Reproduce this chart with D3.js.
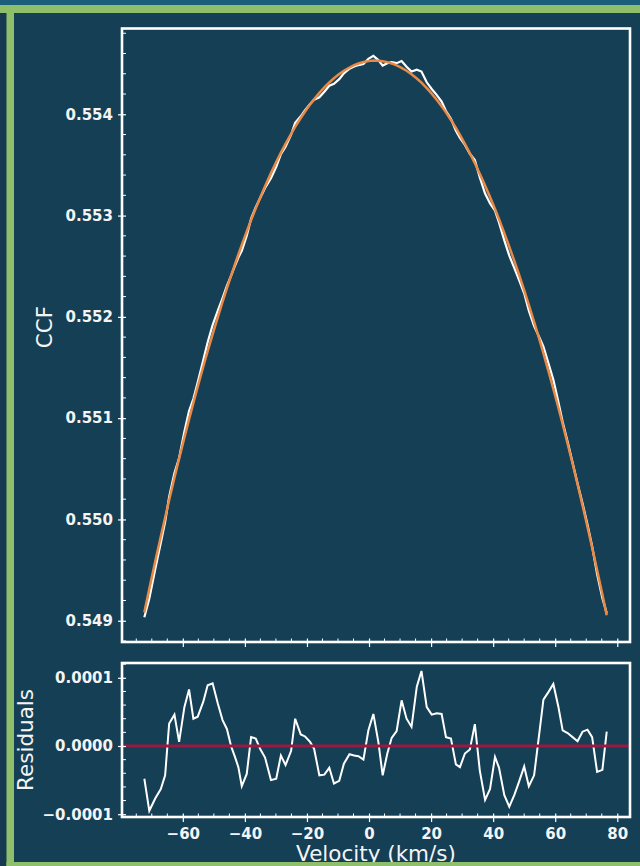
<!DOCTYPE html>
<html>
<head>
<meta charset="utf-8">
<script src="https://cdn.jsdelivr.net/npm/d3@7"></script>
<style>
  body { margin: 0; background: #143f55; }
  svg { display: block; }
</style>
</head>
<body>
<svg width="640" height="866"></svg>
<script>
// velocity grid (km/s)
const velocity = [
  -72.4, -70.8, -68.9, -67.1, -65.7, -64.4, -62.7, -61.2, -59.5, -58.0,
  -56.6, -55.2, -53.4, -52.0, -50.4, -48.7, -47.2, -45.8, -44.4, -43.2,
  -42.1, -41.0, -39.4, -38.0, -36.5, -35.1, -33.5, -31.6, -29.9, -28.4,
  -26.9, -25.1, -23.8, -22.0, -20.6, -19.0, -17.7, -16.0, -14.4, -12.8,
  -11.3, -9.6, -8.1, -6.3, -4.8, -3.4, -1.8, -0.2, 1.4, 3.0,
  4.4, 5.9, 7.3, 8.9, 10.5, 12.1, 13.7, 15.4, 16.9, 18.6,
  20.2, 21.8, 23.4, 24.8, 26.4, 28.0, 29.3, 30.9, 32.5, 34.1,
  35.7, 37.4, 39.0, 40.6, 41.9, 43.6, 45.2, 46.8, 48.3, 50.0,
  51.5, 53.2, 54.8, 56.2, 57.8, 59.4, 61.0, 62.4, 64.0, 65.6,
  67.2, 68.8, 70.4, 71.9, 73.5, 75.2, 76.6
];

// measured CCF (white line)
const ccf = [
  0.549035, 0.549220, 0.549507, 0.549769, 0.549977, 0.550225, 0.550457, 0.550606, 0.550865, 0.551071,
  0.551191, 0.551354, 0.551575, 0.551750, 0.551920, 0.552063, 0.552186, 0.552307, 0.552410, 0.552504,
  0.552585, 0.552652, 0.552802, 0.552969, 0.553082, 0.553172, 0.553273, 0.553369, 0.553481, 0.553607,
  0.553680, 0.553800, 0.553915, 0.553980, 0.554041, 0.554102, 0.554144, 0.554168, 0.554223, 0.554282,
  0.554301, 0.554347, 0.554404, 0.554450, 0.554471, 0.554486, 0.554496, 0.554548, 0.554577, 0.554535,
  0.554481, 0.554504, 0.554514, 0.554505, 0.554526, 0.554470, 0.554423, 0.554440, 0.554422, 0.554316,
  0.554250, 0.554192, 0.554126, 0.554032, 0.553955, 0.553838, 0.553766, 0.553697, 0.553610, 0.553548,
  0.553376, 0.553218, 0.553120, 0.553048, 0.552931, 0.552755, 0.552605, 0.552483, 0.552368, 0.552233,
  0.552060, 0.551908, 0.551803, 0.551707, 0.551545, 0.551379, 0.551163, 0.550963, 0.550766, 0.550563,
  0.550354, 0.550160, 0.549950, 0.549735, 0.549462, 0.549223, 0.549075
];

// model fit (orange line)
const fit = [
  0.549083, 0.549315, 0.549584, 0.549832, 0.550020, 0.550192, 0.550411, 0.550600, 0.550808, 0.550988,
  0.551151, 0.551311, 0.551510, 0.551661, 0.551828, 0.552001, 0.552148, 0.552282, 0.552411, 0.552520,
  0.552616, 0.552711, 0.552843, 0.552956, 0.553071, 0.553176, 0.553290, 0.553419, 0.553529, 0.553621,
  0.553708, 0.553807, 0.553875, 0.553963, 0.554027, 0.554096, 0.554148, 0.554211, 0.554265, 0.554314,
  0.554356, 0.554398, 0.554430, 0.554462, 0.554485, 0.554501, 0.554516, 0.554525, 0.554530, 0.554529,
  0.554524, 0.554515, 0.554502, 0.554483, 0.554459, 0.554430, 0.554395, 0.554353, 0.554312, 0.554259,
  0.554204, 0.554144, 0.554079, 0.554019, 0.553944, 0.553865, 0.553797, 0.553708, 0.553615, 0.553516,
  0.553412, 0.553297, 0.553183, 0.553064, 0.552963, 0.552827, 0.552694, 0.552555, 0.552421, 0.552263,
  0.552119, 0.551951, 0.551787, 0.551639, 0.551466, 0.551288, 0.551105, 0.550940, 0.550747, 0.550550,
  0.550347, 0.550139, 0.549926, 0.549722, 0.549500, 0.549258, 0.549054
];

// residuals (data - fit)
const residuals = [
  -4.8e-5, -9.5e-5, -7.7e-5, -6.3e-5, -4.3e-5, 3.3e-5, 4.6e-5, 0.6e-5, 5.7e-5, 8.3e-5,
  4.0e-5, 4.3e-5, 6.5e-5, 8.9e-5, 9.2e-5, 6.2e-5, 3.8e-5, 2.5e-5, -0.1e-5, -1.6e-5,
  -3.1e-5, -5.9e-5, -4.1e-5, 1.3e-5, 1.1e-5, -0.4e-5, -1.7e-5, -5.0e-5, -4.8e-5, -1.4e-5,
  -2.8e-5, -0.7e-5, 4.0e-5, 1.7e-5, 1.4e-5, 0.6e-5, -0.4e-5, -4.3e-5, -4.2e-5, -3.2e-5,
  -5.5e-5, -5.1e-5, -2.6e-5, -1.2e-5, -1.4e-5, -1.5e-5, -2.0e-5, 2.3e-5, 4.7e-5, 0.6e-5,
  -4.3e-5, -1.1e-5, 1.2e-5, 2.2e-5, 6.7e-5, 4.0e-5, 2.8e-5, 8.7e-5, 11.0e-5, 5.7e-5,
  4.6e-5, 4.8e-5, 4.7e-5, 1.3e-5, 1.1e-5, -2.7e-5, -3.1e-5, -1.1e-5, -0.5e-5, 3.2e-5,
  -3.6e-5, -7.9e-5, -6.3e-5, -1.6e-5, -3.2e-5, -7.2e-5, -8.9e-5, -7.2e-5, -5.3e-5, -3.0e-5,
  -5.9e-5, -4.3e-5, 1.6e-5, 6.8e-5, 7.9e-5, 9.1e-5, 5.8e-5, 2.3e-5, 1.9e-5, 1.3e-5,
  0.7e-5, 2.1e-5, 2.4e-5, 1.3e-5, -3.8e-5, -3.5e-5, 2.1e-5
];

const ccfTicks = [0.549, 0.550, 0.551, 0.552, 0.553, 0.554];
const residTicks = [-0.0001, 0, 0.0001];
const velTicks = [-60, -40, -20, 0, 20, 40, 60, 80];

const W = 640, H = 866;
const left = 122, right = 630;
const top1 = 28.5, bot1 = 642;
const top2 = 663, bot2 = 817;

const svg = d3.select('svg');

// page background + green border
svg.append('rect').attr('width', W).attr('height', H).attr('fill', '#143f55');
svg.append('rect').attr('width', W).attr('height', 5).attr('fill', '#1a5e7b');
svg.append('rect').attr('x', 0).attr('y', 13).attr('width', 6.5).attr('height', H - 13).attr('fill', '#183a50');
svg.append('rect').attr('x', 0).attr('y', 5).attr('width', W).attr('height', 8).attr('fill', '#8fbf6b');
svg.append('rect').attr('x', 6.5).attr('y', 5).attr('width', 7.5).attr('height', H - 5).attr('fill', '#8fbf6b');

const x = d3.scaleLinear().domain([-79.6, 84.1]).range([left, right]);
const y1 = d3.scaleLinear().domain([0.54879, 0.554847]).range([bot1, top1]);
const y2 = d3.scaleLinear().domain([-0.0001041, 0.0001217]).range([bot2, top2]);

const labelFont = 'bold 15px "DejaVu Sans"';
const titleFont = '21.5px "DejaVu Sans"';

// ---- top panel ----
const mainData = velocity.map((v, i) => ({ v, c: ccf[i], f: fit[i] }));

svg.append('path')
  .datum(mainData)
  .attr('fill', 'none')
  .attr('stroke', '#ffffff')
  .attr('stroke-width', 2.2)
  .attr('d', d3.line().x(d => x(d.v)).y(d => y1(d.c)));

svg.append('path')
  .datum(mainData)
  .attr('fill', 'none')
  .attr('stroke', '#e88a46')
  .attr('stroke-width', 2.5)
  .attr('d', d3.line().x(d => x(d.v)).y(d => y1(d.f)));

// ---- residual panel ----
const resData = velocity.map((v, i) => ({ v, r: residuals[i] }));

svg.append('path')
  .datum(resData)
  .attr('fill', 'none')
  .attr('stroke', '#ffffff')
  .attr('stroke-width', 2)
  .attr('d', d3.line().x(d => x(d.v)).y(d => y2(d.r)));

svg.append('line')
  .attr('x1', left).attr('x2', right)
  .attr('y1', y2(0)).attr('y2', y2(0))
  .attr('stroke', '#9e1741')
  .attr('stroke-width', 3);

// ---- axes ----
function yAxis(scale, ticks, fmt) {
  const g = svg.append('g')
    .attr('transform', `translate(${left},0)`)
    .call(d3.axisLeft(scale).tickValues(ticks).tickFormat(fmt).tickSizeOuter(0));
  g.select('.domain').remove();
  g.selectAll('.tick line').attr('x1', 4).attr('x2', -4).attr('stroke', '#fff').attr('stroke-width', 1.2);
  g.selectAll('.tick text').attr('x', -9).attr('fill', '#f4f4f4').style('font', labelFont);
  return g;
}

function xAxis(yPos, withLabels) {
  const g = svg.append('g')
    .attr('transform', `translate(0,${yPos})`)
    .call(d3.axisBottom(x).tickValues(velTicks)
      .tickFormat(withLabels ? d3.format('d') : '').tickSizeOuter(0));
  g.select('.domain').remove();
  g.selectAll('.tick line').attr('y1', -3.5).attr('y2', 5).attr('stroke', '#fff').attr('stroke-width', 1.2);
  g.selectAll('.tick text').attr('y', 11).attr('fill', '#f4f4f4').style('font', labelFont);
  return g;
}

yAxis(y1, ccfTicks, d3.format('.3f'));
yAxis(y2, residTicks, d3.format('.4f'));
xAxis(bot1, false);
xAxis(bot2, true);

// minor ticks (pointing inward)
const minorCcf = d3.range(2744, 2775).filter(i => i % 5 !== 0).map(i => i * 0.0002);
const minorRes = d3.range(-5, 7).filter(i => i % 5 !== 0).map(i => i * 2e-5);
const minorVel = d3.range(-15, 17).filter(i => i % 4 !== 0).map(i => i * 5);

svg.append('g').selectAll('line').data(minorCcf).join('line')
  .attr('x1', left).attr('x2', left + 4)
  .attr('y1', d => y1(d)).attr('y2', d => y1(d))
  .attr('stroke', '#fff').attr('stroke-width', 1);

svg.append('g').selectAll('line').data(minorRes).join('line')
  .attr('x1', left).attr('x2', left + 4)
  .attr('y1', d => y2(d)).attr('y2', d => y2(d))
  .attr('stroke', '#fff').attr('stroke-width', 1);

[bot1, bot2].forEach(b => {
  svg.append('g').selectAll('line').data(minorVel).join('line')
    .attr('x1', d => x(d)).attr('x2', d => x(d))
    .attr('y1', b).attr('y2', b - 3.5)
    .attr('stroke', '#fff').attr('stroke-width', 1);
});

// frames
svg.append('rect')
  .attr('x', left).attr('y', top1).attr('width', right - left).attr('height', bot1 - top1)
  .attr('fill', 'none').attr('stroke', '#fff').attr('stroke-width', 2.6);
svg.append('rect')
  .attr('x', left).attr('y', top2).attr('width', right - left).attr('height', bot2 - top2)
  .attr('fill', 'none').attr('stroke', '#fff').attr('stroke-width', 2.6);

// axis titles
svg.append('text')
  .attr('transform', 'translate(52,327) rotate(-90)')
  .attr('text-anchor', 'middle')
  .attr('fill', '#f4f4f4')
  .style('font', titleFont)
  .text('CCF');

svg.append('text')
  .attr('transform', `translate(32.5,${(top2 + bot2) / 2}) rotate(-90)`)
  .attr('text-anchor', 'middle')
  .attr('fill', '#f4f4f4')
  .style('font', titleFont)
  .text('Residuals');

svg.append('text')
  .attr('x', (left + right) / 2)
  .attr('y', 861)
  .attr('text-anchor', 'middle')
  .attr('fill', '#f4f4f4')
  .style('font', titleFont)
  .text('Velocity (km/s)');

// green border drawn over the bottom of the x label
svg.append('rect').attr('x', 6.5).attr('y', 862).attr('width', W).attr('height', 4).attr('fill', '#8fbf6b');
</script>
</body>
</html>
